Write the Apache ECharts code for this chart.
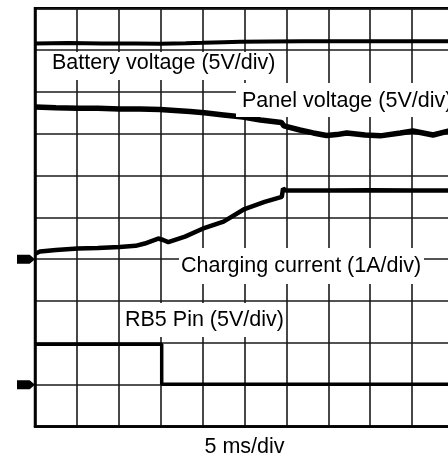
<!DOCTYPE html>
<html>
<head>
<meta charset="utf-8">
<script src="https://cdn.jsdelivr.net/npm/echarts@6/dist/echarts.min.js"></script>
<style>
html,body{margin:0;padding:0;background:#fff;}
#chart{width:448px;height:460px;}
</style>
</head>
<body>
<div id="chart"></div>
<script>
// time in ms (5 ms/div), vertical position in screen divisions (0 = bottom, 10 = top)
const batteryTrace = [[0,9.16],[4,9.17],[8,9.16],[12,9.16],[15,9.155],[18,9.165],[20,9.175],[22.5,9.19],[24.5,9.2],[28,9.205],[32,9.21],[38,9.21],[44,9.215],[50,9.21]];
const panelTrace = [[0,7.64],[2.5,7.62],[5.1,7.61],[7.5,7.61],[10.1,7.59],[12.5,7.59],[14.9,7.58],[16.7,7.555],[18.5,7.53],[20.2,7.5],[22.5,7.45],[24.8,7.4],[26.9,7.33],[29.4,7.27],[29.7,7.19],[31.6,7.09],[33.2,7.02],[34.8,6.96],[36,6.98],[37.2,7.02],[39.4,6.97],[41.2,6.95],[43.6,7.02],[45.1,7.065],[47.5,6.97],[49.3,7.06],[50,7.08]];
const chargingTrace = [[0,4.13],[0.6,4.185],[2.5,4.22],[5.1,4.255],[7.5,4.27],[10.1,4.295],[12,4.32],[13.1,4.375],[14.7,4.495],[15.3,4.46],[15.9,4.41],[17.9,4.54],[20,4.73],[22.5,4.9],[25,5.2],[27.4,5.37],[29.45,5.49],[29.6,5.69],[29.95,5.645],[35,5.645],[40,5.65],[45,5.645],[50,5.645]];
const rb5Trace = [[0,1.966],[15.12,1.966],[15.12,1.01],[50,1.01]];
const groundMarkers = [[0,4],[0,1]];
const traceLabels = ['Battery voltage (5V/div)','Panel voltage (5V/div)','Charging current (1A/div)','RB5 Pin (5V/div)'];
const timeBase = '5 ms/div';

const chart = echarts.init(document.getElementById('chart'));
const FONT = '21.5px "Liberation Sans", Arial, sans-serif';
const boxes = [[48,52,234,28],[236,83,220,34],[179,248,245,36],[122,303,164,34]];
const textPos = [[52,63],[242,101.5],[181,266.5],[125,320]];
const graphics = [];
boxes.forEach(b => graphics.push({type:'rect', z:100, shape:{x:b[0],y:b[1],width:b[2],height:b[3]}, style:{fill:'#fff'}}));
traceLabels.forEach((t,i) => graphics.push({type:'text', z:101, style:{text:t, x:textPos[i][0], y:textPos[i][1], font:FONT, fill:'#000', verticalAlign:'middle', align:'left'}}));

const lineSeries = (data, w) => ({type:'line', data, showSymbol:false, symbol:'none', lineStyle:{color:'#000', width:w}, z:5, clip:true, animation:false});

chart.setOption({
  animation:false,
  grid:{left:35, top:8.3, right:-6, bottom:33.5, show:true, borderColor:'#000', borderWidth:2.5, containLabel:false, outerBoundsMode:'none'},
  xAxis:{type:'value', min:0, max:50, interval:5,
    axisLine:{show:true, lineStyle:{color:'#000', width:2.5}}, axisTick:{show:false}, axisLabel:{show:false},
    splitLine:{show:true, lineStyle:{color:'#1a1a1a', width:1.6}},
    name:timeBase, nameLocation:'middle', nameGap:10,
    nameTextStyle:{fontSize:21.5, fontFamily:'"Liberation Sans", Arial, sans-serif', color:'#000', verticalAlign:'top'}},
  yAxis:{type:'value', min:0, max:10, interval:1,
    axisLine:{show:true, lineStyle:{color:'#000', width:2.5}}, axisTick:{show:false}, axisLabel:{show:false},
    splitLine:{show:true, lineStyle:{color:'#1a1a1a', width:1.6}}},
  series:[
    lineSeries(batteryTrace, 4),
    lineSeries(panelTrace, 5.5),
    lineSeries(chargingTrace, 4.5),
    lineSeries(rb5Trace, 3.5),
    {type:'scatter', data:groundMarkers, clip:false, z:10,
     symbol:'path://M0,0 L12,0 L17,4.5 L12,9 L0,9 Z', symbolSize:[18,9], symbolOffset:[-9,0],
     itemStyle:{color:'#000', opacity:1}}
  ],
  graphic:graphics
});
</script>
</body>
</html>
